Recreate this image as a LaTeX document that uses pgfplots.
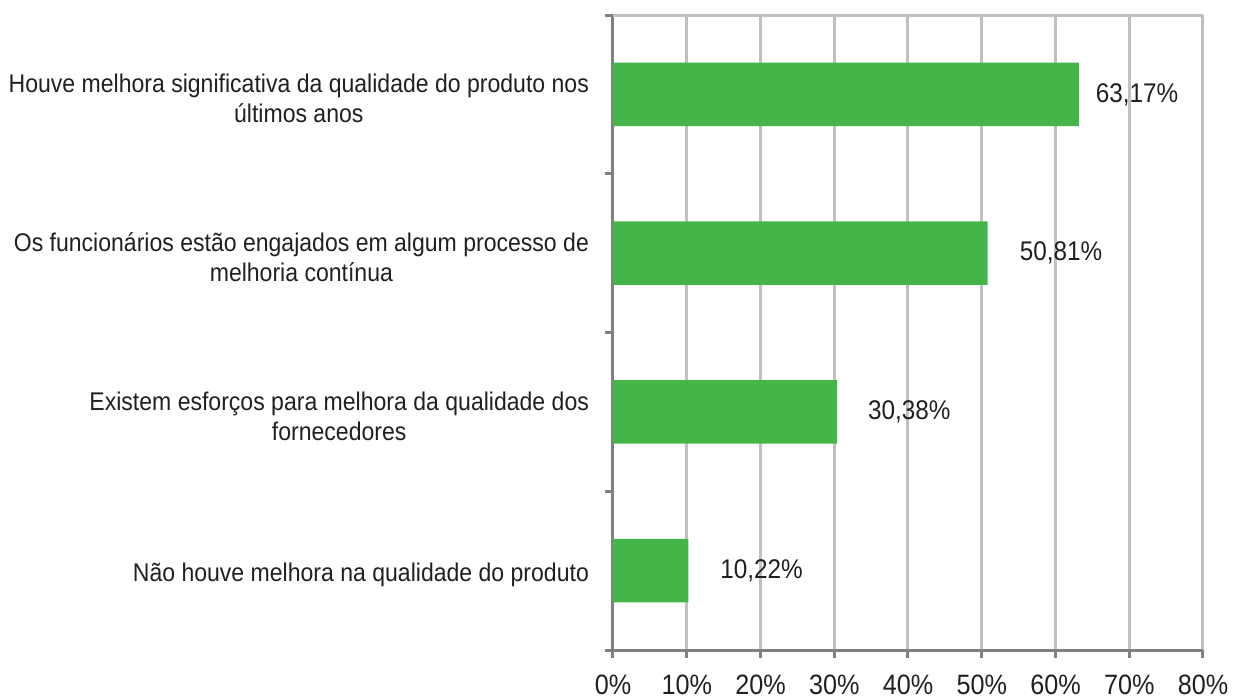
\documentclass[border=0pt]{standalone}
\usepackage{fontspec}
\setmainfont[FakeStretch=0.9]{Liberation Sans}
\usepackage{pgfplots}
\usepackage{pgfplotstable}
\pgfplotsset{compat=1.18}
\definecolor{barg}{HTML}{44B649}
\definecolor{gridg}{HTML}{C0C0C0}
\definecolor{axg}{HTML}{808080}
\definecolor{txt}{HTML}{231F20}
\pgfplotstableread{
y x sh label
0 10.22 12.5 10,22\%
1 30.38 12 30,38\%
2 50.81 12.5 50,81\%
3 63.17 5 63,17\%
}\datatab
\begin{document}
\begin{tikzpicture}[font=\fontsize{12.8}{15}\selectfont, text=txt]
\useasboundingbox (-306.5pt,-24pt) rectangle (313.5pt,325pt);
\begin{axis}[
  at={(0,0)}, anchor=south west,
  scale only axis, width=295pt, height=317.5pt,
  xmin=0, xmax=80, ymin=-0.5, ymax=3.5,
  axis lines*=left,
  axis line style={draw=axg, line width=1.5pt},
  xtick={0,10,...,80},
  xticklabels={0\%,10\%,20\%,30\%,40\%,50\%,60\%,70\%,80\%},
  xticklabel style={font=\fontsize{14}{15}\selectfont, yshift=-5pt},
  xmajorgrids,
  major grid style={draw=gridg, line width=1.5pt},
  ytick={0,1,2,3},
  yticklabels={
    {Não houve melhora na qualidade do produto},
    {Existem esforços para melhora da qualidade dos\\fornecedores},
    {Os funcionários estão engajados em algum processo de\\melhoria contínua},
    {Houve melhora significativa da qualidade do produto nos\\últimos anos}},
  yticklabel style={align=center, xshift=-4.5pt, yshift=-2pt},
  y tick style={draw=none},
  x tick style={draw=axg, line width=1.5pt},
  tick align=outside,
  major tick length=4pt,
  extra y ticks={-0.5,0.5,1.5,2.5,3.5},
  extra y tick labels={},
  extra y tick style={y tick style={draw=axg, line width=1.5pt}, major tick length=4pt, tick align=outside},
  xbar, bar width=0.4,
  nodes near coords,
  point meta=explicit symbolic,
  visualization depends on={\thisrow{sh} \as \sh},
  nodes near coords style={anchor=west, xshift=\sh pt, font=\fontsize{13.5}{15}\selectfont, text=txt},
  clip=false,
]
\addplot[fill=barg, draw=none] table[x=x, y=y, meta=label] {\datatab};
\draw[gridg, line width=1.5pt] (rel axis cs:0,1) -- (rel axis cs:1,1);
\end{axis}
\end{tikzpicture}
\end{document}
